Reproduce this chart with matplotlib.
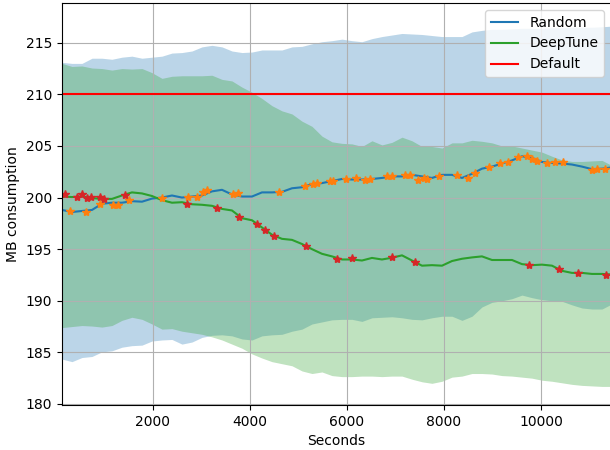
import numpy as np
import matplotlib
matplotlib.use("Agg")
import matplotlib.pyplot as plt

# ----------------------------------------------------------------------
# Memory usage over the tuning run (mean line and +/- std band)
# ----------------------------------------------------------------------

seconds = [124, 330, 536, 743, 949, 1155, 1361, 1567, 1774, 1980,
           2186, 2392, 2598, 2805, 3011, 3217, 3423, 3629, 3836, 4042,
           4248, 4454, 4660, 4867, 5073, 5279, 5485, 5691, 5898, 6104,
           6310, 6516, 6722, 6929, 7135, 7341, 7547, 7753, 7960, 8166,
           8372, 8578, 8784, 8991, 9197, 9403, 9609, 9815, 10022, 10228,
           10434, 10640, 10846, 11053, 11259, 11424]

random_mean = [198.8, 198.6, 198.7, 198.8, 199.4, 199.5, 199.5, 199.65, 199.6, 199.9,
               200.0, 200.2, 200.0, 200.1, 200.2, 200.6, 200.75, 200.3, 200.1, 200.1,
               200.5, 200.5, 200.55, 200.9, 201.0, 201.3, 201.4, 201.6, 201.8, 201.75,
               201.75, 201.8, 201.9, 202.05, 202.05, 202.2, 202.05, 201.9, 202.2, 202.2,
               201.9, 202.3, 202.8, 203.0, 203.3, 203.6, 204.0, 203.85, 203.45, 203.35,
               203.3, 203.2, 203.0, 202.75, 202.8, 202.9]
random_upper = [213.1, 213.0, 213.0, 213.5, 213.5, 213.4, 213.6, 213.7, 213.5, 213.6,
                213.7, 214.0, 214.05, 214.2, 214.6, 214.75, 214.6, 214.2, 214.05, 214.1,
                214.3, 214.3, 214.3, 214.6, 214.65, 214.9, 215.1, 215.2, 215.35, 215.2,
                215.1, 215.4, 215.6, 215.75, 215.9, 215.85, 215.8, 215.7, 215.6, 215.6,
                215.6, 216.05, 216.2, 216.3, 216.3, 216.35, 216.4, 216.4, 216.4, 216.45,
                216.45, 216.5, 216.5, 216.5, 216.55, 216.6]
random_lower = [184.35, 184.1, 184.5, 184.6, 185.05, 185.15, 185.5, 185.65, 185.7, 186.1,
                186.2, 186.25, 185.8, 186.0, 186.45, 186.65, 186.7, 186.6, 186.3, 186.2,
                186.6, 186.7, 186.75, 187.05, 187.25, 187.75, 187.95, 188.15, 188.2, 188.2,
                188.0, 188.35, 188.4, 188.45, 188.35, 188.2, 188.15, 188.35, 188.5, 188.5,
                188.1, 188.5, 189.4, 189.85, 190.0, 190.2, 190.55, 190.3, 190.1, 190.0,
                189.95, 189.6, 189.3, 189.2, 189.2, 189.6]

deeptune_mean = [200.1, 200.05, 200.1, 199.95, 199.87, 199.87, 200.2, 200.5, 200.4, 200.15,
                 199.75, 199.5, 199.55, 199.35, 199.3, 199.2, 198.9, 198.75, 198.0, 197.8,
                 197.1, 196.4, 196.0, 195.9, 195.5, 195.0, 194.55, 194.3, 194.0, 194.0,
                 193.9, 194.15, 194.0, 194.17, 194.4, 193.9, 193.4, 193.45, 193.4, 193.85,
                 194.07, 194.2, 194.3, 193.95, 193.95, 193.95, 193.55, 193.45, 193.5, 193.4,
                 192.9, 192.7, 192.7, 192.6, 192.6, 192.55]
deeptune_upper = [213.0, 212.7, 212.75, 212.55, 212.5, 212.35, 212.5, 212.45, 212.5, 212.1,
                  211.55, 211.75, 211.8, 211.8, 211.8, 211.85, 211.45, 211.3, 210.7, 210.2,
                  209.6, 208.9, 208.4, 208.1, 207.4, 206.9, 205.95, 205.4, 205.25, 205.2,
                  204.95, 205.5, 205.1, 205.35, 205.85, 205.5, 204.95, 204.95, 204.8, 205.3,
                  205.3, 205.55, 205.45, 205.3, 205.0, 205.0, 204.8, 204.6, 204.4, 204.0,
                  203.65, 203.5, 203.5, 203.55, 203.6, 203.2]
deeptune_lower = [187.4, 187.5, 187.6, 187.55, 187.45, 187.6, 188.1, 188.4, 188.2, 187.75,
                  187.25, 187.3, 187.05, 186.9, 186.75, 186.5, 186.2, 185.8, 185.4, 184.85,
                  184.45, 184.1, 183.9, 183.7, 183.2, 182.95, 183.1, 182.75, 182.65, 182.65,
                  182.7, 182.7, 182.65, 182.7, 182.7, 182.4, 182.15, 182.0, 182.2, 182.6,
                  182.7, 182.95, 182.95, 182.9, 182.75, 182.7, 182.6, 182.5, 182.3, 182.2,
                  182.05, 181.9, 181.8, 181.75, 181.7, 181.7]

# sampled configurations (stars)
random_pts_t = [289, 619, 908, 1176, 1279, 1506, 2186, 2722, 2908, 3031,
                3114, 3650, 3753, 4599, 5135, 5300, 5382, 5650, 5712, 5980,
                6186, 6372, 6475, 6825, 6929, 7197, 7300, 7465, 7589, 7651,
                7898, 8269, 8496, 8640, 8929, 9156, 9321, 9527, 9712, 9815,
                9919, 10125, 10290, 10455, 11053, 11156, 11321]
random_pts_y = [198.65, 198.6, 199.35, 199.25, 199.3, 199.75, 199.95, 200.1, 200.05, 200.55,
                200.7, 200.3, 200.4, 200.5, 201.1, 201.35, 201.4, 201.6, 201.6, 201.8,
                201.9, 201.7, 201.8, 202.05, 202.05, 202.2, 202.15, 201.7, 201.85, 201.75,
                202.1, 202.2, 201.9, 202.4, 202.95, 203.3, 203.45, 203.9, 204.05, 203.75,
                203.5, 203.3, 203.4, 203.4, 202.7, 202.75, 202.8]

deeptune_pts_t = [186, 433, 536, 640, 722, 908, 990, 1423, 2701, 3320,
                  3774, 4145, 4310, 4495, 5155, 5795, 6104, 6929, 7403, 9753,
                  10372, 10764, 11341]
deeptune_pts_y = [200.3, 200.05, 200.3, 200.0, 200.1, 200.1, 199.85, 200.2, 199.4, 199.0,
                  198.1, 197.4, 196.85, 196.3, 195.35, 194.07, 194.15, 194.25, 193.75, 193.5,
                  193.1, 192.7, 192.45]

default_mb = 210.0

fig = plt.figure(figsize=(6.1, 4.5), dpi=100)
ax = fig.add_axes([0.1016, 0.1, 0.9, 0.8933])

ax.fill_between(seconds, random_lower, random_upper, color='C0', alpha=0.3, linewidth=0)
ax.fill_between(seconds, deeptune_lower, deeptune_upper, color='C2', alpha=0.3, linewidth=0)

ax.plot(seconds, random_mean, color='C0', label='Random')
ax.plot(seconds, deeptune_mean, color='C2', label='DeepTune')
ax.axhline(default_mb, color='r', label='Default')

ax.plot(random_pts_t, random_pts_y, '*', color='C1')
ax.plot(deeptune_pts_t, deeptune_pts_y, '*', color='C3')

ax.set_xlim(124, 11444)
ax.set_ylim(179.9, 218.85)
ax.set_xlabel('Seconds')
ax.set_ylabel('MB consumption')
ax.grid(True)
ax.legend(loc='upper right')

fig.savefig('out.png', dpi=100)
